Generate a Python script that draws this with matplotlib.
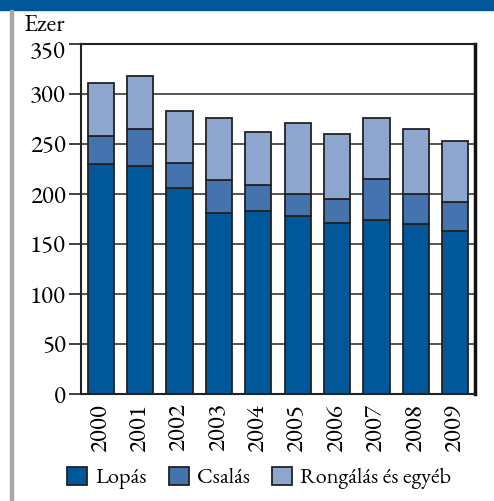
import numpy as np
import matplotlib
matplotlib.use("Agg")
import matplotlib.pyplot as plt
from matplotlib.patches import Rectangle
from matplotlib.transforms import ScaledTranslation

# ── Data (ezer eset) ──────────────────────────────────────────────────────────
years   = ["2000", "2001", "2002", "2003", "2004", "2005", "2006", "2007", "2008", "2009"]
lopas   = [230, 228, 206, 181, 183, 178, 171, 174, 170, 163]
csalas  = [28, 37, 25, 33, 26, 22, 24, 41, 30, 29]
egyeb   = [53, 53, 52, 62, 53, 71, 65, 61, 65, 61]
labels  = ["Lopás", "Csalás", "Rongálás és egyéb"]
colors  = ["#00579a", "#4573ad", "#8ca6cd"]

plt.rcParams["font.family"] = ["EB Garamond", "Liberation Serif", "DejaVu Serif"]
FS = 18

fig = plt.figure(figsize=(4.94, 5.01), dpi=100)
# blue header band + grey left rule
fig.patches.append(Rectangle((0, 1 - 10 / 501), 1, 10 / 501, transform=fig.transFigure,
                             color="#00579a", zorder=0))
fig.patches.append(Rectangle((10 / 494, 0), 3 / 494, 1 - 10 / 501, transform=fig.transFigure,
                             color="#a8a8a8", zorder=0))

ax = fig.add_axes([81 / 494, 1 - 394 / 501, 394 / 494, 350 / 501])
x = np.arange(len(years))
bottom = np.zeros(len(years))
for vals, lab, col in zip([lopas, csalas, egyeb], labels, colors):
    ax.bar(x, vals, 0.66, bottom=bottom, color=col, edgecolor="#222222", lw=1.3,
           label=lab, zorder=3)
    bottom += np.array(vals)

ax.set_xlim(-0.5, 9.5)
ax.set_ylim(0, 350)
ax.set_yticks(range(0, 351, 50))
ax.set_xticks(x)
ax.set_xticklabels(years, rotation=90, fontsize=FS)
ax.tick_params(axis="y", labelsize=FS, length=9, width=1.3, color="#333333", pad=2)
ax.tick_params(axis="x", length=0, pad=7)
ax.yaxis.grid(True, color="#555555", lw=1.4, zorder=0)
ax.set_axisbelow(True)
for side in ["left", "bottom", "top"]:
    ax.spines[side].set_color("#222222")
    ax.spines[side].set_linewidth(1.5)
ax.spines["right"].set_color("#111111")
ax.spines["right"].set_linewidth(2.5)

# top label sits a bit lower, as in the original
top_lab = ax.get_yticklabels()[-1]
top_lab.set_transform(top_lab.get_transform() + ScaledTranslation(0, -4 / 72, fig.dpi_scale_trans))

fig.text(23 / 494, 1 - 31 / 501, "Ezer", fontsize=18, va="baseline", ha="left")

fig.legend(loc="center left", bbox_to_anchor=(67 / 494, 1 - 478 / 501), ncol=3,
           frameon=False, fontsize=16, handlelength=0.9, handleheight=0.9,
           columnspacing=0.95, handletextpad=0.4, borderpad=0, borderaxespad=0)

plt.savefig("out.png", dpi=100)
